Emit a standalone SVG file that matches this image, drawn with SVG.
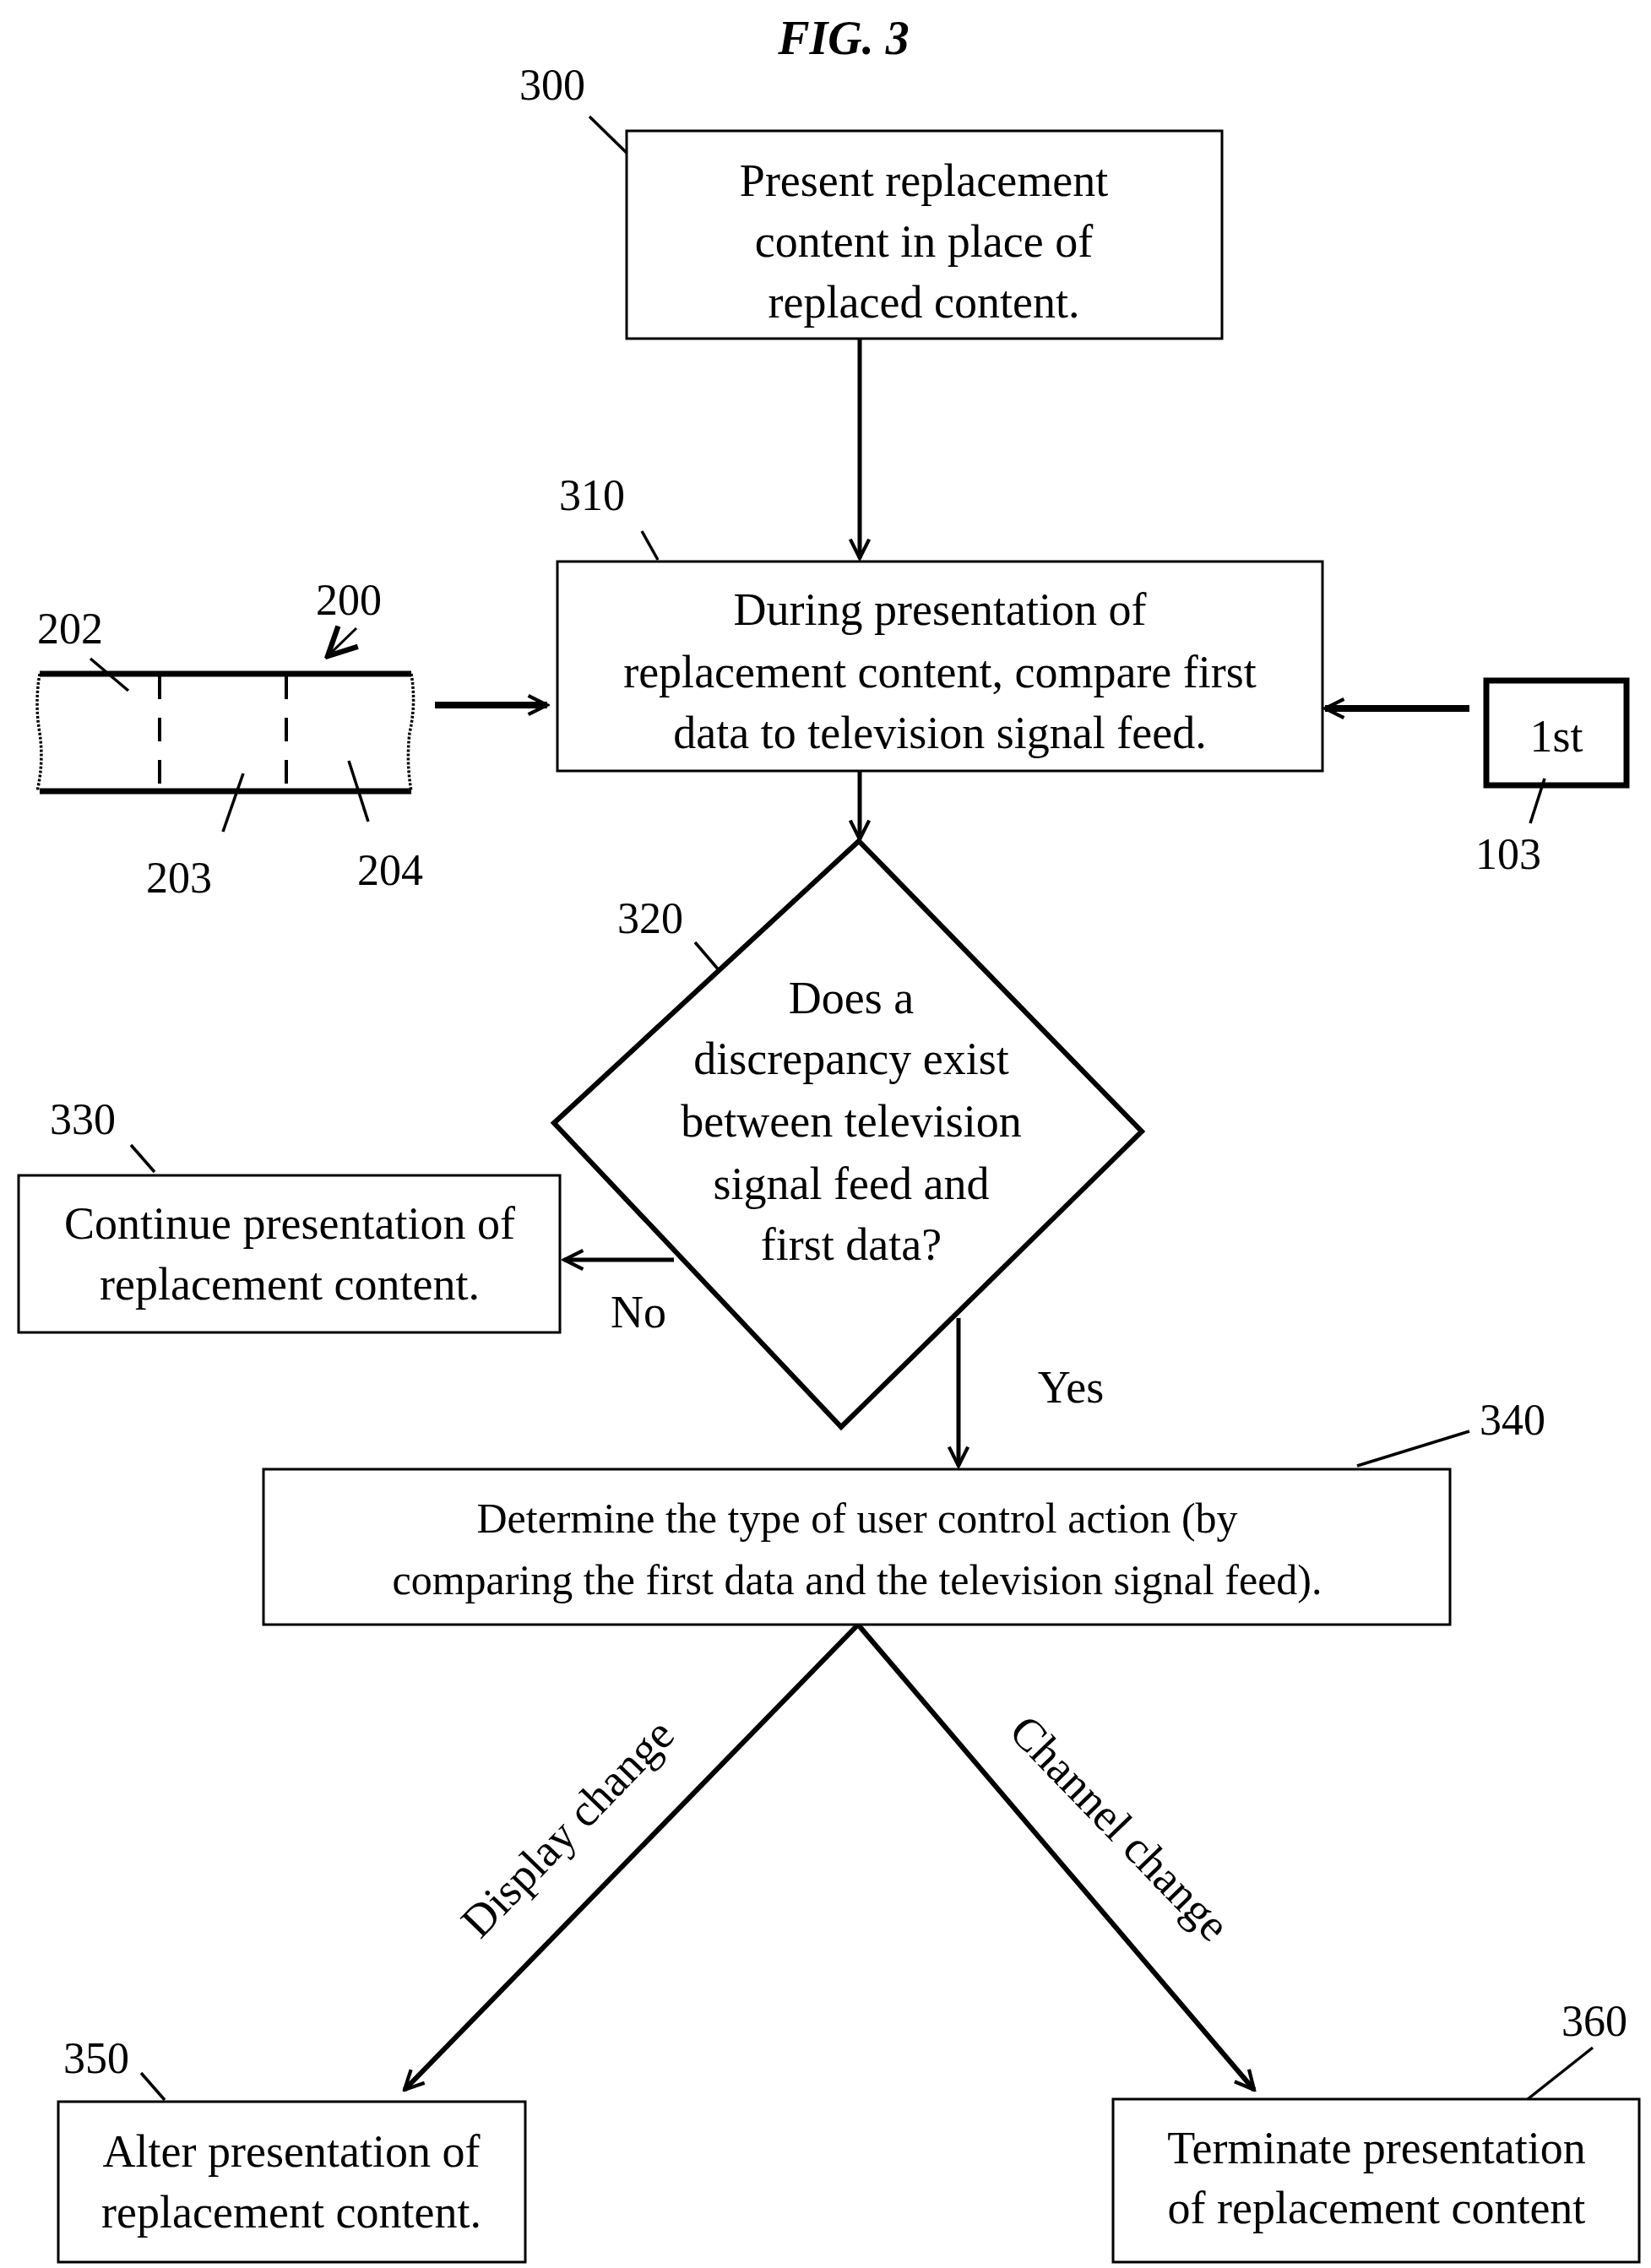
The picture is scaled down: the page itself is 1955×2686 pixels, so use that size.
<svg xmlns="http://www.w3.org/2000/svg" width="1955" height="2686" viewBox="0 0 1955 2686">
<defs>
<marker id="ah" viewBox="0 0 20 20" refX="18" refY="10" markerWidth="28" markerHeight="28" markerUnits="userSpaceOnUse" orient="auto"><path d="M2,2 L18,10 L2,18" fill="none" stroke="#000" stroke-width="3"/></marker>
<marker id="ahb" viewBox="0 0 20 20" refX="18" refY="10" markerWidth="14" markerHeight="14" orient="auto"><path d="M2,2 L18,10 L2,18" fill="none" stroke="#000" stroke-width="3"/></marker>
</defs>
<style>
text{font-family:"Liberation Serif",serif;fill:#000;dominant-baseline:central;text-anchor:middle}
.t{font-size:54px}
.s{font-size:50px}
.n{font-size:52px}
.box{fill:#fff;stroke:#000;stroke-width:3}
.ln{stroke:#000;stroke-width:3.5;fill:none}
.c{stroke:#000;stroke-width:5;fill:none;marker-end:url(#ah)}
</style>
<rect width="1955" height="2686" fill="#fff"/>
<text x="999" y="45" style="font-size:56px;font-style:italic;font-weight:bold">FIG. 3</text>
<g id="connectors">
<line class="c" x1="1018" y1="401" x2="1018" y2="661"/>
<line class="c" x1="515" y1="835" x2="648" y2="835" style="stroke-width:8"/>
<line class="c" x1="1740" y1="839" x2="1569" y2="839" style="stroke-width:8"/>
<line class="c" x1="1018" y1="913" x2="1018" y2="994"/>
<line class="c" x1="798" y1="1492" x2="668" y2="1492"/>
<line class="c" x1="1135" y1="1561" x2="1135" y2="1736"/>
<line class="c" x1="1016" y1="1924" x2="479" y2="2475" style="stroke-width:6"/>
<line class="c" x1="1016" y1="1924" x2="1485" y2="2475" style="stroke-width:6"/>
<text class="t" x="756" y="1554">No</text>
<text class="t" x="1268" y="1643">Yes</text>
<text class="t" transform="translate(672,2165) rotate(-46)">Display change</text>
<text class="t" transform="translate(1326,2165) rotate(46)">Channel change</text>
</g>
<g id="n300">
<rect class="box" x="742" y="155" width="705" height="246"/>
<text class="t" x="1094" y="214">Present replacement</text>
<text class="t" x="1094" y="286">content in place of</text>
<text class="t" x="1094" y="358">replaced content.</text>
<text class="n" x="654" y="100">300</text>
<line class="ln" x1="698" y1="138" x2="742" y2="181"/>
</g>
<g id="n310">
<rect class="box" x="660" y="665" width="906" height="248"/>
<text class="t" x="1113" y="722">During presentation of</text>
<text class="t" x="1113" y="796">replacement content, compare first</text>
<text class="t" x="1113" y="868">data to television signal feed.</text>
<text class="n" x="701" y="586">310</text>
<line class="ln" x1="760" y1="629" x2="779" y2="663"/>
</g>
<g id="n200">
<path d="M47,798 q-6,35 0,70 q5,35 -3,69" class="ln" stroke-dasharray="3 2"/>
<path d="M487,798 q6,35 -2,70 q-4,35 2,69" class="ln" stroke-dasharray="3 2"/>
<line x1="47" y1="798" x2="487" y2="798" stroke="#000" stroke-width="7"/>
<line x1="47" y1="937" x2="487" y2="937" stroke="#000" stroke-width="7"/>
<line x1="189" y1="800" x2="189" y2="935" stroke="#000" stroke-width="4" stroke-dasharray="28 22"/>
<line x1="339" y1="800" x2="339" y2="935" stroke="#000" stroke-width="4" stroke-dasharray="28 22"/>
<text class="n" x="83" y="744">202</text>
<line class="ln" x1="107" y1="780" x2="152" y2="818"/>
<text class="n" x="413" y="710">200</text>
<line x1="422" y1="744" x2="388" y2="777" stroke="#000" stroke-width="3" marker-end="url(#ahb)"/>
<text class="n" x="212" y="1039">203</text>
<line class="ln" x1="264" y1="985" x2="288" y2="916"/>
<text class="n" x="462" y="1030">204</text>
<line class="ln" x1="436" y1="973" x2="413" y2="901"/>
</g>
<g id="n103">
<rect x="1760" y="806" width="166" height="124" fill="#fff" stroke="#000" stroke-width="7"/>
<text class="t" x="1843" y="872">1st</text>
<text class="n" x="1786" y="1011">103</text>
<line class="ln" x1="1829" y1="922" x2="1812" y2="975"/>
</g>
<g id="n320">
<polygon points="1017,996 1352,1340 996,1690 656,1330" fill="#fff" stroke="#000" stroke-width="6"/>
<text class="t" x="1008" y="1182">Does a</text>
<text class="t" x="1008" y="1254">discrepancy exist</text>
<text class="t" x="1008" y="1328">between television</text>
<text class="t" x="1008" y="1402">signal feed and</text>
<text class="t" x="1008" y="1474">first data?</text>
<text class="n" x="770" y="1087">320</text>
<line class="ln" x1="823" y1="1116" x2="853" y2="1151"/>
</g>
<g id="n330">
<rect class="box" x="22" y="1392" width="641" height="186"/>
<text class="t" x="343" y="1449">Continue presentation of</text>
<text class="t" x="343" y="1521">replacement content.</text>
<text class="n" x="98" y="1325">330</text>
<line class="ln" x1="155" y1="1356" x2="183" y2="1388"/>
</g>
<g id="n340">
<rect class="box" x="312" y="1740" width="1405" height="184"/>
<text class="s" x="1015" y="1798">Determine the type of user control action (by</text>
<text class="s" x="1015" y="1871">comparing the first data and the television signal feed).</text>
<text class="n" x="1791" y="1681">340</text>
<line class="ln" x1="1607" y1="1736" x2="1740" y2="1695"/>
</g>
<g id="n350">
<rect class="box" x="69" y="2489" width="553" height="190"/>
<text class="t" x="345" y="2548">Alter presentation of</text>
<text class="t" x="345" y="2620">replacement content.</text>
<text class="n" x="114" y="2437">350</text>
<line class="ln" x1="167" y1="2455" x2="195" y2="2487"/>
</g>
<g id="n360">
<rect class="box" x="1318" y="2486" width="623" height="193"/>
<text class="t" x="1630" y="2544">Terminate presentation</text>
<text class="t" x="1630" y="2615">of replacement content</text>
<text class="n" x="1888" y="2393">360</text>
<line class="ln" x1="1886" y1="2425" x2="1809" y2="2486"/>
</g>
</svg>
